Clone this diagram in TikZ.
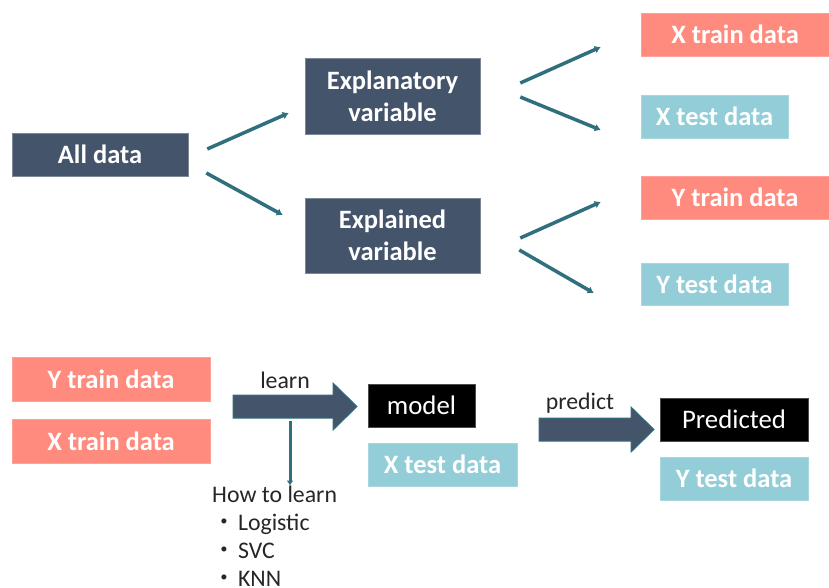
\documentclass[tikz,border=0pt]{standalone}
\usepackage{fontspec}
\setmainfont{Carlito}
\newfontfamily\cjk{Noto Sans CJK JP}
\usetikzlibrary{arrows.meta,calc}

\definecolor{slate}{HTML}{44546A}
\definecolor{salmon}{HTML}{FF8A7E}
\definecolor{aqua}{HTML}{92CDD8}
\definecolor{teal}{HTML}{2F6F7E}

\tikzset{
  box/.style={rectangle, inner sep=0pt, text=white, align=center,
    font=\fontsize{26.5}{32}\selectfont\bfseries},
  darkbox/.style={box, fill=slate, draw=slate!70!white, line width=0.6pt},
  trainbox/.style={box, fill=salmon, draw=salmon!80!white, line width=0.6pt},
  testbox/.style={box, fill=aqua, draw=aqua!80!white, line width=0.6pt},
  blackbox/.style={rectangle, inner sep=0pt, fill=black, draw=black!70!white,
    line width=0.6pt, text=white, font=\fontsize{26.8}{30}\selectfont},
  conn/.style={draw=teal, line width=3.5pt, -{Latex[length=6pt,width=8pt]}},
  label/.style={inner sep=0pt, text=black!85, font=\fontsize{23.8}{28.2}\selectfont},
  blockarrow/.style={fill=slate, draw=teal, line width=1pt, line join=miter},
}

\begin{document}
\begin{tikzpicture}[x=1pt, y=-1pt]
  \useasboundingbox (0,0) rectangle (829,587);

  % ---- splitting the data ----
  \node[darkbox, minimum width=176pt, minimum height=43pt] (all) at (100,154.5) {All data};
  \node[darkbox, minimum width=175pt, minimum height=76pt] (expl) at (392.5,96) {Explanatory\\variable};
  \node[darkbox, minimum width=175pt, minimum height=75pt] (expd) at (392.5,235.5) {Explained\\variable};

  \node[trainbox, minimum width=188pt, minimum height=43pt] (xtr) at (735,34.5) {X train data};
  \node[testbox, minimum width=147pt, minimum height=43pt] (xte) at (714.5,116.5) {X test data};
  \node[trainbox, minimum width=188pt, minimum height=43pt] (ytr) at (735,197.5) {Y train data};
  \node[testbox, minimum width=147pt, minimum height=42pt] (yte) at (714.5,284) {Y test data};

  \draw[conn] ($(all.east)+(19,-5.5)$) -- ($(expl.west)+(-16,17)$);
  \draw[conn] ($(all.east)+(18,18.5)$) -- ($(expd.west)+(-22,-20.5)$);
  \draw[conn] ($(expl.east)+(40,-13)$) -- ($(xtr.west)+(-40,12.5)$);
  \draw[conn] ($(expl.east)+(40,1)$) -- ($(xte.west)+(-40,13.5)$);
  \draw[conn] ($(expd.east)+(40,2.5)$) -- ($(ytr.west)+(-40,4.5)$);
  \draw[conn] ($(expd.east)+(39,14.5)$) -- ($(yte.west)+(-47,9)$);

  % ---- learning and predicting ----
  \node[trainbox, minimum width=198pt, minimum height=44pt] (ytr2) at (111,379) {Y train data};
  \node[trainbox, minimum width=198pt, minimum height=44pt] (xtr2) at (111,441) {X train data};

  \node[blackbox, minimum width=107pt, minimum height=43pt] (model) at (421.5,405.5) {model};
  \node[testbox, minimum width=149pt, minimum height=43pt] (xte2) at (442.5,464.5) {X test data};

  \node[blackbox, minimum width=148pt, minimum height=43pt] (pred) at (734,419.5) {Predicted};
  \node[testbox, minimum width=148pt, minimum height=43pt] (yte2) at (734,478.5) {Y test data};

  % block arrow: learn
  \coordinate (learnA) at (233,406.5);
  \draw[blockarrow] (learnA) ++(0,-11.5) -- ++(100,0) -- ++(0,-12) -- ++(24,23.5)
     -- ++(-24,23.5) -- ++(0,-12) -- ++(-100,0) -- cycle;
  \node[label] (learn) at (285,380) {learn};

  % block arrow: predict
  \coordinate (predA) at (539,429.5);
  \draw[blockarrow] (predA) ++(0,-11.5) -- ++(92,0) -- ++(0,-11) -- ++(23,22.5)
     -- ++(-23,22.5) -- ++(0,-11) -- ++(-92,0) -- cycle;
  \node[label] (predict) at (580,403) {predict};

  % learning methods
  \node[label, anchor=north west, align=left] (howto) at (212,485.5)
    {How to learn\\{\cjk ・}\kern2pt Logistic\\{\cjk ・}\kern2pt SVC\\{\cjk ・}\kern2pt KNN};
  \coordinate (learnB) at (290,421);
  \draw[draw=teal, line width=3pt, -{Latex[length=5pt,width=7pt]}] (learnB) -- (learnB |- howto.north);
\end{tikzpicture}
\end{document}
